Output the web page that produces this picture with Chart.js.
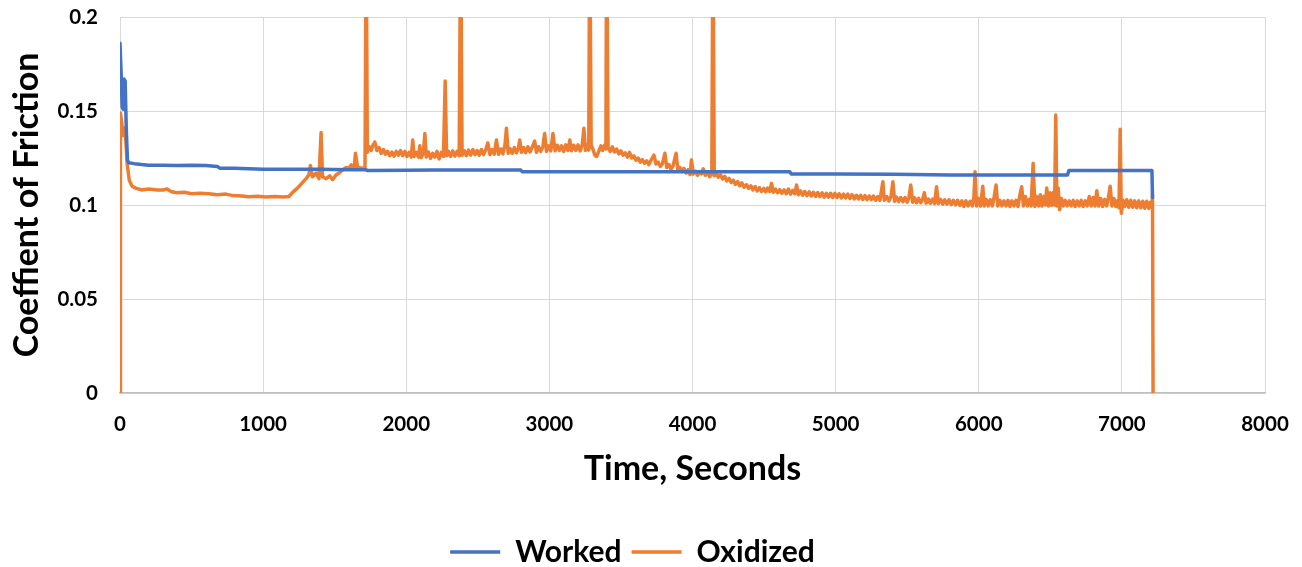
<!DOCTYPE html>
<html>
<head>
<meta charset="utf-8">
<script src="https://cdn.jsdelivr.net/npm/chart.js@4.4.1/dist/chart.umd.min.js"></script>
<style>
  html,body{margin:0;padding:0;background:#fff;}
  #wrap{width:1302px;height:567px;position:relative;}
</style>
</head>
<body>
<div id="wrap"><canvas id="c" width="1302" height="567"></canvas></div>
<script>
// ---- data ----
const xTickLabels = ['0','1000','2000','3000','4000','5000','6000','7000','8000'];
const yTickLabels = ['0','0.05','0.1','0.15','0.2'];
const seriesNames = ['Worked','Oxidized'];

const workedTime = [0,8,15,22,28,36,44,52,60,100,150,200,300,400,500,600,680,700,800,1000,1200,1400,1600,1720,1730,2000,2200,2400,2600,2800,2810,3200,3600,4000,4400,4680,4690,5000,5400,5800,6200,6620,6630,7000,7210,7214];
const workedCOF  = [0.186,0.17,0.152,0.151,0.167,0.166,0.14,0.124,0.1225,0.122,0.1215,0.1212,0.1212,0.121,0.1212,0.121,0.1205,0.1195,0.1195,0.119,0.119,0.119,0.1188,0.1187,0.1183,0.1185,0.1186,0.1186,0.1186,0.1186,0.1177,0.1177,0.1177,0.1177,0.1177,0.1177,0.1165,0.1165,0.1163,0.116,0.116,0.116,0.1183,0.1183,0.1183,0.104];

const oxidizedTime = [0,3,12,20,30,40,50,65,85,110,150,200,260,300,330,360,400,450,500,560,620,680,740,790,850,900,960,1020,1080,1140,1180,1210,1240,1270,1300,1320,1330,1345,1370,1390,1405,1415,1440,1465,1485,1510,1530,1555,1580,1600,1615,1635,1645,1660,1695,1712,1720,
1728,1740,1755,1765,1780,1795,1810,1825,1840,1855,1870,1885,1900,1915,1930,1945,1960,1975,1990,2005,2020,2035,2045,2055,2070,2085,2095,2105,2120,2130,2140,2155,2170,2185,2200,2215,2230,2245,2260,2272,2282,2295,2310,2325,2340,2355,2370,2380,2390,2405,2420,2435,2450,2465,2480,2495,2510,2525,2540,2555,2570,2585,2600,2615,2630,2645,2660,2675,2690,2700,2712,2725,2740,2755,2770,2783,2793,2805,2820,2835,2850,2865,2880,2897,2910,2925,2940,2955,2967,2980,2995,3010,3025,3040,3055,3070,3085,3100,3115,3130,3143,3155,3170,3185,3200,3215,3230,3241,3252,3265,3275,3282,3292,3305,3318,3330,3345,3360,3372,3385,3395,3400,3410,3425,3440,3455,3470,3485,3500,3515,3530,3545,3560,3575,3590,3605,3620,3635,3650,3665,3680,3695,3710,3730,3745,3760,3775,3790,3807,3820,3835,3850,3865,3885,3898,3912,3925,3940,3955,3970,3983,3993,4005,4020,4035,4050,4063,4075,4090,4105,4120,4135,4143,4152,4165,4180,4195,4210,4225,4240,4255,4270,4285,4300,4315,4330,4345,4360,4378,4392,4408,4422,4438,4452,4468,4482,4498,4512,4525,4540,4552,4565,4580,4595,4610,4625,4640,4655,4670,4685,4700,4715,4727,4740,4755,4770,4785,4800,4815,4830,4845,4860,4875,4890,4905,4920,4935,4950,4965,4980,4995,5010,5025,5040,5055,5070,5085,5100,5115,5130,5145,5160,5175,5190,5205,5220,5235,5250,5265,5280,5295,5310,5330,5340,5357,5372,5387,5400,5412,5425,5440,5455,5470,5485,5500,5512,5525,5538,5552,5565,5580,5595,5610,5620,5632,5648,5662,5678,5692,5705,5718,5732,5748,5762,5778,5792,5808,5822,5838,5852,5868,5882,5896,5910,5925,5940,5955,5966,5974,5984,5998,6012,6020,6028,6038,6052,6066,6080,6095,6108,6121,6133,6148,6162,6176,6190,6204,6218,6232,6246,6260,6274,6288,6300,6312,6326,6340,6354,6366,6380,6392,6405,6418,6430,6442,6455,6466,6475,6487,6498,6510,6522,6530,6538,6546,6555,6565,6578,6590,6604,6618,6632,6646,6660,6674,6688,6702,6716,6730,6744,6758,6772,6786,6800,6812,6825,6838,6852,6866,6880,6894,6906,6918,6930,6944,6958,6972,6980,6988,6996,7008,7020,7034,7048,7062,7076,7090,7104,7118,7132,7146,7160,7174,7188,7200,7210,7214,7218];
const oxidizedCOF  = [0,0.149,0.144,0.137,0.141,0.135,0.122,0.113,0.110,0.109,0.108,0.1085,0.108,0.108,0.1085,0.107,0.1065,0.1068,0.106,0.1063,0.106,0.1055,0.1058,0.105,0.1048,0.1044,0.1047,0.1042,0.1045,0.1043,0.1045,0.107,0.109,0.1115,0.114,0.116,0.121,0.115,0.117,0.114,0.1385,0.115,0.114,0.1155,0.1135,0.116,0.117,0.1186,0.120,0.1195,0.1213,0.1190,0.1275,0.1200,0.1195,0.120,0.25,
0.128,0.131,0.129,0.1315,0.1335,0.129,0.1305,0.1275,0.1295,0.127,0.1285,0.1262,0.1282,0.126,0.1285,0.1265,0.129,0.1262,0.1285,0.1258,0.128,0.1255,0.1346,0.1258,0.128,0.1255,0.1315,0.1252,0.1278,0.138,0.1255,0.1282,0.1248,0.1275,0.1255,0.1285,0.1245,0.128,0.1258,0.166,0.1262,0.1285,0.1258,0.1288,0.126,0.1285,0.1262,0.25,0.1265,0.129,0.1262,0.1292,0.1265,0.1295,0.1268,0.129,0.1265,0.1295,0.1268,0.1292,0.133,0.1268,0.1295,0.127,0.1346,0.127,0.1298,0.1272,0.132,0.1408,0.1275,0.13,0.1275,0.1305,0.1278,0.1302,0.1346,0.128,0.1305,0.1278,0.131,0.1282,0.1308,0.134,0.128,0.131,0.1285,0.1312,0.138,0.1285,0.1315,0.1288,0.138,0.1288,0.1318,0.129,0.1315,0.1285,0.132,0.129,0.1346,0.1288,0.1318,0.129,0.132,0.1288,0.1322,0.1408,0.129,0.132,0.1292,0.25,0.1318,0.1295,0.1265,0.1258,0.1285,0.1315,0.129,0.1318,0.1298,0.25,0.1305,0.1285,0.131,0.1282,0.1298,0.1272,0.1288,0.1265,0.1278,0.1255,0.128,0.125,0.1262,0.1238,0.125,0.1228,0.1242,0.1222,0.1235,0.1215,0.1238,0.1266,0.1218,0.1228,0.1205,0.122,0.1275,0.12,0.1215,0.119,0.121,0.1275,0.1185,0.12,0.1178,0.1195,0.117,0.1188,0.1162,0.124,0.1165,0.118,0.1158,0.1178,0.1165,0.1192,0.1158,0.1175,0.115,0.117,0.25,0.1155,0.1172,0.1148,0.116,0.1138,0.1152,0.1128,0.1142,0.112,0.1132,0.111,0.1125,0.1102,0.1118,0.1095,0.1108,0.1088,0.1102,0.108,0.1098,0.1075,0.1092,0.1072,0.1088,0.107,0.109,0.1072,0.1115,0.1068,0.1085,0.1065,0.1082,0.1062,0.108,0.106,0.1085,0.1058,0.1078,0.106,0.1106,0.1055,0.1075,0.1052,0.1072,0.105,0.107,0.1048,0.1068,0.1045,0.1066,0.1045,0.1065,0.1042,0.1062,0.1042,0.1062,0.104,0.1062,0.104,0.106,0.1038,0.1058,0.1038,0.1058,0.1035,0.1055,0.1032,0.1052,0.1032,0.1052,0.103,0.105,0.1028,0.1048,0.1028,0.1048,0.1025,0.1045,0.1025,0.1124,0.1025,0.1045,0.1022,0.1045,0.1124,0.102,0.1042,0.1018,0.104,0.1018,0.104,0.1015,0.1038,0.1106,0.1015,0.1038,0.1012,0.1035,0.1012,0.1035,0.1065,0.101,0.1032,0.101,0.1032,0.1008,0.1097,0.1008,0.103,0.1005,0.1028,0.1005,0.1028,0.1002,0.1025,0.1,0.1025,0.0998,0.1022,0.0992,0.1022,0.0995,0.102,0.0995,0.104,0.1177,0.0995,0.1035,0.0995,0.1045,0.110,0.0995,0.103,0.0995,0.1028,0.0995,0.1045,0.1106,0.0995,0.1025,0.0995,0.1022,0.0995,0.1025,0.0992,0.1022,0.0995,0.1025,0.0992,0.1055,0.1097,0.0995,0.1045,0.0995,0.103,0.0995,0.1222,0.0992,0.1045,0.0995,0.1055,0.0995,0.1045,0.1,0.109,0.0995,0.1065,0.0998,0.1068,0.1,0.1479,0.0995,0.109,0.0975,0.1035,0.0995,0.1025,0.0995,0.1022,0.0995,0.1025,0.0992,0.1022,0.0995,0.1025,0.0992,0.1022,0.0995,0.1045,0.0995,0.104,0.0995,0.1076,0.0995,0.1035,0.0992,0.103,0.0995,0.104,0.110,0.0995,0.1035,0.0992,0.1025,0.0985,0.1403,0.0956,0.1025,0.0992,0.1028,0.0988,0.1025,0.0988,0.1022,0.0985,0.1022,0.0985,0.102,0.0982,0.102,0.0982,0.1015,0.0985,0.1053,0];

// ---- build chart ----
const toXY = (t, v) => t.map((x, i) => ({x: x, y: v[i]}));
const FONT = 'Lato';

new Chart(document.getElementById('c'), {
  type: 'line',
  data: {
    datasets: [
      {label: seriesNames[0], data: toXY(workedTime, workedCOF), borderColor: '#4472C4', backgroundColor: '#4472C4',
       borderWidth: 3.5, pointRadius: 0, tension: 0, borderJoinStyle: 'round', borderCapStyle: 'round'},
      {label: seriesNames[1], data: toXY(oxidizedTime, oxidizedCOF), borderColor: '#ED7D31', backgroundColor: '#ED7D31',
       borderWidth: 3.5, pointRadius: 0, tension: 0, borderJoinStyle: 'round', borderCapStyle: 'round'}
    ]
  },
  options: {
    responsive: false,
    animation: false,
    layout: {padding: {left: 0, right: 37, top: 17, bottom: -10}},
    scales: {
      x: {
        type: 'linear', min: 0, max: 8000,
        ticks: {stepSize: 1000, padding: 19, color: '#000', font: {family: FONT, weight: 'bold', size: 20.5},
                callback: (v, i) => xTickLabels[i]},
        grid: {color: '#d9d9d9', lineWidth: 1, drawTicks: false},
        border: {color: '#bfbfbf', width: 1.5},
        title: {display: true, text: 'Time, Seconds', color: '#000', font: {family: FONT, weight: 'bold', size: 34},
                padding: {top: 0, bottom: 38}},
        afterFit: (s) => { s.height = 134; s.paddingLeft = 0; s.paddingRight = 0; }
      },
      y: {
        min: 0, max: 0.2,
        ticks: {stepSize: 0.05, padding: 22, color: '#000', font: {family: FONT, weight: 'bold', size: 20.5},
                callback: (v, i) => yTickLabels[i]},
        grid: {color: '#d9d9d9', lineWidth: 1, drawTicks: false},
        border: {color: '#d9d9d9', width: 1},
        title: {display: true, text: 'Coeffient of Friction', color: '#000', font: {family: FONT, weight: 'bold', size: 34},
                padding: {top: 7, bottom: 0}},
        afterFit: (s) => { s.width = 120; s.paddingTop = 0; s.paddingBottom = 0; }
      }
    },
    plugins: {
      legend: {
        position: 'bottom',
        labels: {usePointStyle: true, pointStyle: 'line', pointStyleWidth: 50, boxHeight: 3,
                 color: '#000', font: {family: FONT, weight: 'bold', size: 30}, padding: 10}
      },
      tooltip: {enabled: false}
    }
  }
});
</script>
</body>
</html>
